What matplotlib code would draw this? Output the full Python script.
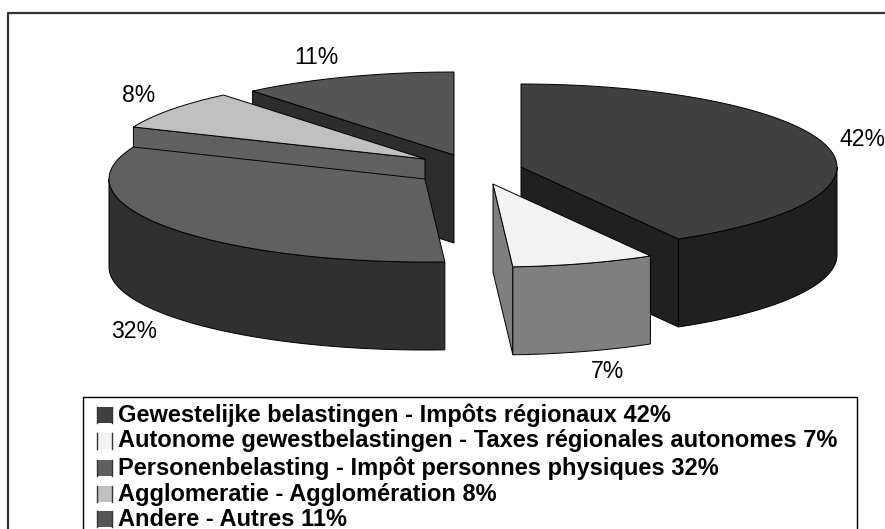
import numpy as np
import matplotlib
matplotlib.use("Agg")
import matplotlib.pyplot as plt
from matplotlib.patches import Rectangle

plt.rcParams['font.family'] = ['Liberation Sans', 'DejaVu Sans']

valeurs = [41.7, 7.3, 32.3, 7.7, 11]
noms = ["Gewestelijke belastingen - Impôts régionaux",
        "Autonome gewestbelastingen - Taxes régionales autonomes",
        "Personenbelasting - Impôt personnes physiques",
        "Agglomeratie - Agglomération",
        "Andere - Autres"]

# couleurs: dessus, paroi, face radiale
dessus = ["#404040", "#f2f2f2", "#606060", "#c0c0c0", "#555555"]
paroi = ["#202020", "#7f7f7f", "#303030", "#606060", "#2d2d2d"]

# centres des parts eclatees, en pixels
centres = [(521, 167), (493, 184), (425, 179), (425, 159), (454, 155)]
pos_labels = [(862, 139), (607, 372), (134, 332), (139, 96), (316, 57)]
ordre = [4, 3, 2, 0, 1]

RX = 316
RY = 83
H = 88

def point(c, t):
    return c[0] + RX * np.sin(t), c[1] - RY * np.cos(t)

fig = plt.figure(figsize=(8.85, 5.29), dpi=100)
ax = fig.add_axes([0, 0, 1, 1])
ax.set_xlim(0, 885)
ax.set_ylim(529, 0)
ax.axis("off")

bords = np.radians(np.cumsum([0] + valeurs) * 3.6)

for i in ordre:
    c = centres[i]
    t0, t1 = bords[i], bords[i + 1]
    style = dict(edgecolor="black", linewidth=0.7)

    # faces radiales visibles
    if np.sin(t0) < -1e-9:
        x, y = point(c, t0)
        ax.fill([c[0], x, x, c[0]], [c[1], y, y + H, c[1] + H], facecolor=paroi[i], **style)
    if np.sin(t1) > 1e-9:
        x, y = point(c, t1)
        ax.fill([c[0], x, x, c[0]], [c[1], y, y + H, c[1] + H], facecolor=paroi[i], **style)

    # paroi exterieure (seulement la partie vers l'avant)
    a = max(t0, np.pi / 2)
    b = min(t1, 3 * np.pi / 2)
    if b > a:
        t = np.linspace(a, b, 100)
        x, y = point(c, t)
        ax.fill(np.r_[x, x[::-1]], np.r_[y, y[::-1] + H], facecolor=paroi[i], **style)

    # dessus
    t = np.linspace(t0, t1, 100)
    x, y = point(c, t)
    ax.fill(np.r_[c[0], x], np.r_[c[1], y], facecolor=dessus[i], **style)

for v, p in zip(valeurs, pos_labels):
    ax.text(p[0], p[1], f"{round(v)}%", fontsize=16.6, ha="center", va="center", color="black")

# cadre general, coupe a droite et en bas
ax.plot([8, 8, 885], [529, 13, 13], color="#333333", linewidth=1.6)

# legende
ax.plot([83, 83, 857, 857], [529, 397, 397, 529], color="black", linewidth=1.0)
y_leg = [415, 441, 468, 494, 519]
for nom, v, coul, y in zip(noms, valeurs, dessus, y_leg):
    ax.add_patch(Rectangle((97, y - 8), 15, 16, facecolor=coul, edgecolor="none"))
    ax.plot([97, 97], [y - 8, y + 8], color="#333333", linewidth=1.0)
    ax.plot([112, 112], [y - 8, y + 8], color="#333333", linewidth=1.0)
    ax.text(118, y, f"{nom} {round(v)}%", fontsize=17, fontweight="bold", ha="left", va="center", color="black")

fig.savefig("out.png", dpi=100)
